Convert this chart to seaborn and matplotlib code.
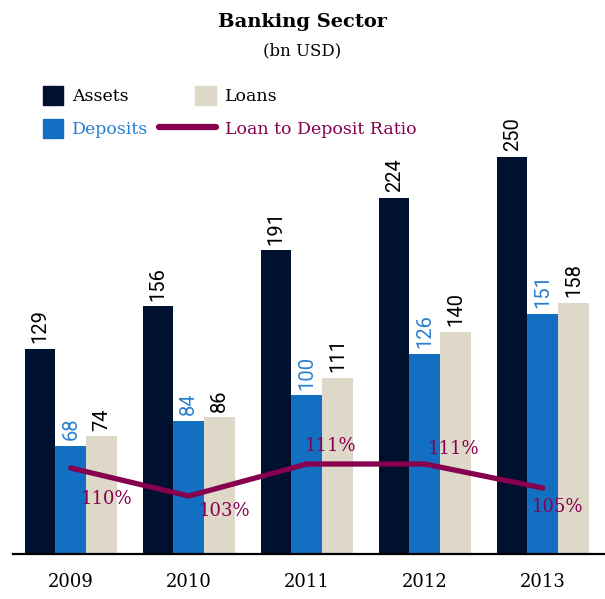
import matplotlib
matplotlib.use('Agg')
import pandas as pd
import matplotlib.pyplot as plt
import seaborn as sns
from matplotlib.patches import Patch, Rectangle
from matplotlib.lines import Line2D
from matplotlib.legend_handler import HandlerPatch

# data
years = ['2009', '2010', '2011', '2012', '2013']
assets = [129, 156, 191, 224, 250]
deposits = [68, 84, 100, 126, 151]
loans = [74, 86, 111, 140, 158]
ratio = [110, 103, 111, 111, 105]
ratio_labels = ['110%', '103%', '111%', '111%', '105%']

series_names = ['Assets', 'Deposits', 'Loans']
colors = {'Assets': '#00102f', 'Deposits': '#126fc2', 'Loans': '#ddd8c7'}
label_colors = ['black', '#2a80d0', 'black']
line_color = '#870050'

df = pd.DataFrame({
    'year': years * 3,
    'value': assets + deposits + loans,
    'series': ['Assets'] * 5 + ['Deposits'] * 5 + ['Loans'] * 5,
})

sns.set_style('white')
plt.rcParams['font.family'] = ['DejaVu Serif']
plt.rcParams['text.color'] = 'black'
plt.rcParams['xtick.color'] = 'black'
plt.rcParams['xtick.labelcolor'] = 'black'

fig = plt.figure(figsize=(6.05, 5.99), dpi=100)
ax = fig.add_axes([13 / 605, 45 / 599, 592 / 605, 424 / 599])

sns.barplot(data=df, x='year', y='value', hue='series', hue_order=series_names,
            palette=colors, width=0.78, gap=0, saturation=1, linewidth=0,
            legend=False, ax=ax)

# rotated value labels
for cont, col in zip(ax.containers, label_colors):
    ax.bar_label(cont, labels=[f'{v:.0f}' for v in cont.datavalues], rotation=90,
                 padding=4, color=col, fontsize=14.5, family='Roboto')

ax.set_ylim(0, 266.8)
ax.set_xlabel('')
ax.set_ylabel('')
ax.set_yticks([])
ax.tick_params(axis='x', length=0, pad=14, labelsize=13)
for s in ['left', 'right', 'top']:
    ax.spines[s].set_visible(False)
ax.spines['bottom'].set_linewidth(1.6)
ax.spines['bottom'].set_color('black')

# ratio line on second axis
ax2 = ax.twinx()
xs = list(range(len(years)))
sns.lineplot(x=xs, y=ratio, ax=ax2, color=line_color, linewidth=3.8)
ax2.set_ylim(88.5, 194.5)
ax2.set_yticks([])
ax2.set_ylabel('')
for s in ax2.spines.values():
    s.set_visible(False)
ax.set_xlim(-0.49, 4.527)

# percent labels (pixel offsets from each point)
offsets = [(36, -31), (36, -15), (24, 18), (29, 15), (15, -19)]
for x, v, t, (dx, dy) in zip(xs, ratio, ratio_labels, offsets):
    ax2.annotate(t, (x, v), xytext=(dx * 0.72, dy * 0.72), textcoords='offset points',
                 ha='center', va='center', color=line_color, fontsize=13)

# title
fig.text(0.5, 1 - 22 / 599, 'Banking Sector', ha='center', va='center',
         fontsize=14, weight='bold')
fig.text(0.5, 1 - 51 / 599, '(bn USD)', ha='center', va='center', fontsize=12)


# legend: squares sit at the right end of the handle box
def square(legend, orig_handle, xdescent, ydescent, width, height, fontsize):
    sq = height * 1.09
    return Rectangle((-xdescent + width - sq, -ydescent), sq, height)


handles = [Patch(color=colors['Assets']), Patch(color=colors['Deposits']),
           Patch(color=colors['Loans']), Line2D([], [], color=line_color, linewidth=4.5)]
names = ['Assets', 'Deposits', 'Loans', 'Loan to Deposit Ratio']
leg = fig.legend(handles, names, ncol=2, frameon=False, loc='upper left',
                 bbox_to_anchor=(6 / 605, 1 - 86 / 599), borderpad=0, borderaxespad=0,
                 fontsize=12.5, handlelength=3.3, handleheight=1.3, handletextpad=0.5,
                 labelspacing=0.8, columnspacing=0.6,
                 handler_map={Patch: HandlerPatch(patch_func=square)})
for txt, col in zip(leg.get_texts(), ['black', '#2a80d0', 'black', line_color]):
    txt.set_color(col)

fig.savefig('out.png', dpi=100)
